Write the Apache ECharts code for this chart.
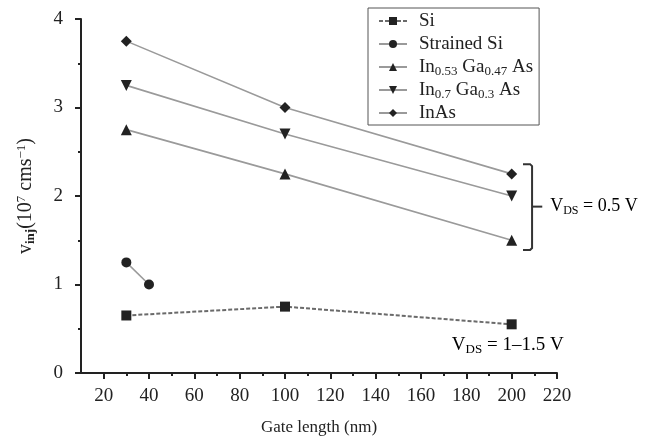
<!DOCTYPE html>
<html><head><meta charset="utf-8">
<script src="https://cdn.jsdelivr.net/npm/echarts@6/dist/echarts.min.js"></script>
<style>html,body{margin:0;padding:0;background:#fff}#c{width:645px;height:444px}</style>
</head><body><div id="c"></div>
<script>
// ---- data ----
const gateLength = [30, 100, 200];
const strainedGate = [30, 40];
const siVals = [0.65, 0.75, 0.55];
const strainedSiVals = [1.25, 1.0];
const inGa053Vals = [2.75, 2.25, 1.5];
const inGa07Vals = [3.25, 2.7, 2.0];
const inAsVals = [3.75, 3.0, 2.25];
const xMajorTicks = [20, 40, 60, 80, 100, 120, 140, 160, 180, 200, 220];
const xMinorTicks = [30, 50, 70, 90, 110, 130, 150, 170, 190, 210];
const seriesNames = ['Si', 'Strained Si', 'In0.53Ga0.47As', 'In0.7Ga0.3As', 'InAs'];
const legendRich = {
  'Si': '{g| }{n|Si}{s| }',
  'Strained Si': '{g| }{n|Strained Si}{s| }',
  'In0.53Ga0.47As': '{g| }{n|In}{s|0.53}{n| Ga}{s|0.47}{n| As}',
  'In0.7Ga0.3As': '{g| }{n|In}{s|0.7}{n| Ga}{s|0.3}{n| As}',
  'InAs': '{g| }{n|InAs}{s| }'
};

const FONT = '"Liberation Serif","Times New Roman",serif';
const INK = '#222';
const rich = {
  g: {width: 7, fontSize: 10, lineHeight: 22},
  n: {fontFamily: FONT, fontSize: 19, color: INK, lineHeight: 22},
  s: {fontFamily: FONT, fontSize: 13, color: INK, lineHeight: 13, padding: [9, 0, 0, 0]},
  p: {fontFamily: FONT, fontSize: 13, color: INK, lineHeight: 13, padding: [0, 0, 9, 0]}
};
const richA = {
  n: {fontFamily: FONT, fontSize: 18, color: INK, lineHeight: 22},
  s: {fontFamily: FONT, fontSize: 12, color: INK, lineHeight: 12, padding: [9, 0, 0, 0]}
};
const richY = {
  n: {fontFamily: FONT, fontSize: 20, color: INK, lineHeight: 22},
  s: {fontFamily: FONT, fontSize: 13, color: INK, fontWeight: 'bold', lineHeight: 13, padding: [9, 0, 0, 0]},
  p: {fontFamily: FONT, fontSize: 13, color: INK, lineHeight: 13, padding: [0, 0, 9, 0]}
};

const chart = echarts.init(document.getElementById('c'), null, {renderer: 'canvas'});
const pair = (xs, ys) => xs.map((x, i) => [x, ys[i]]);
const lineGray = '#9a9a9a';
function mk(name, xs, ys, symbol, size, extra) {
  return Object.assign({
    name, type: 'line', data: pair(xs, ys), symbol, symbolSize: size,
    lineStyle: {color: lineGray, width: 1.6},
    itemStyle: {color: INK},
    animation: false
  }, extra || {});
}

const option = {
  animation: false,
  grid: {left: 81, right: 88, top: 19, bottom: 71},
  legend: {
    orient: 'vertical', left: 368, top: 8,
    data: seriesNames,
    formatter: n => legendRich[n],
    textStyle: {rich: rich, fontFamily: FONT, fontSize: 19, color: INK},
    itemWidth: 28, itemHeight: 10, itemGap: 1,
    borderColor: '#555', borderWidth: 1, borderRadius: 0,
    padding: [2, 6, 1, 10],
    inactiveColor: INK
  },
  xAxis: [{
    type: 'value', min: 10, max: 220,
    name: 'Gate length (nm)', nameLocation: 'middle', nameGap: 46,
    nameTextStyle: {fontFamily: FONT, fontSize: 17, color: INK},
    axisLine: {lineStyle: {color: INK, width: 2}},
    axisTick: {show: true, customValues: xMajorTicks, length: 6, lineStyle: {color: INK, width: 2}},
    axisLabel: {customValues: xMajorTicks, fontFamily: FONT, fontSize: 19, color: INK, margin: 14},
    splitLine: {show: false}
  }, {
    type: 'value', min: 10, max: 220, position: 'bottom',
    axisLine: {show: false},
    axisTick: {show: true, customValues: xMinorTicks, length: 3, lineStyle: {color: INK, width: 2}},
    axisLabel: {show: false},
    splitLine: {show: false}
  }],
  yAxis: {
    type: 'value', min: 0, max: 4, interval: 1,
    name: '{n|v}{s|inj}{n|(10}{p|7}{n| cms}{p|−1}{n|)}',
    nameLocation: 'middle', nameGap: 44, nameRotate: 90,
    nameTextStyle: {rich: richY},
    axisLine: {lineStyle: {color: INK, width: 2}},
    axisTick: {length: 6, lineStyle: {color: INK, width: 2}},
    minorTick: {show: true, splitNumber: 2, length: 3, lineStyle: {color: INK, width: 2}},
    axisLabel: {fontFamily: FONT, fontSize: 19, color: INK, margin: 18},
    splitLine: {show: false}
  },
  series: [
    mk('Si', gateLength, siVals, 'rect', 10, {lineStyle: {color: '#6a6a6a', width: 2, type: [4, 2]}}),
    mk('Strained Si', strainedGate, strainedSiVals, 'circle', 10),
    mk('In0.53Ga0.47As', gateLength, inGa053Vals, 'triangle', 11),
    mk('In0.7Ga0.3As', gateLength, inGa07Vals, 'path://M0,0 L10,0 L5,9 Z', 11),
    mk('InAs', gateLength, inAsVals, 'diamond', 11)
  ]
};
chart.setOption(option);

// ---- annotations (positioned through the axes) ----
const px = (x, y) => chart.convertToPixel({xAxisIndex: 0, yAxisIndex: 0}, [x, y]);
const bTop = px(205, 2.36), bBot = px(205, 1.39), bMid = px(209, 1.88);
const bx0 = bTop[0], bx1 = bMid[0];
const tick = px(213.5, 1.88);
const t1 = px(217, 1.88);
const t2 = px(173.6, 0.32);
chart.setOption({
  graphic: [
    {type: 'polyline', shape: {points: [[bx0, bTop[1]], [bx1 - 2, bTop[1]], [bx1, bTop[1] + 2], [bx1, bBot[1] - 2], [bx1 - 2, bBot[1]], [bx0, bBot[1]]]},
      style: {stroke: '#333', lineWidth: 2, fill: null}},
    {type: 'line', shape: {x1: bx1, y1: bMid[1], x2: tick[0], y2: bMid[1]}, style: {stroke: '#333', lineWidth: 2}},
    {type: 'text', x: t1[0], y: t1[1], style: {text: '{n|V}{s|DS}{n| = 0.5 V}', rich: richA, verticalAlign: 'middle', align: 'left'}},
    {type: 'text', x: t2[0], y: t2[1], style: {text: '{n|V}{s|DS}{n| = 1–1.5 V}', rich: rich, verticalAlign: 'middle', align: 'left'}}
  ]
});
</script>
</body></html>
